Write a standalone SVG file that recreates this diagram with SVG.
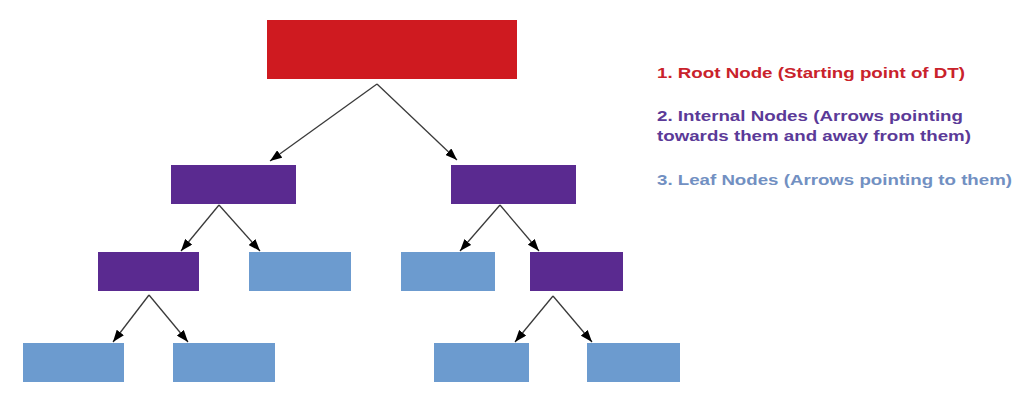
<svg xmlns="http://www.w3.org/2000/svg" width="1035" height="415" viewBox="0 0 1035 415">
<style>
.root{fill:#cf1a20}
.internal{fill:#5a2a90}
.leaf{fill:#6c9bcf}
.conn{stroke:#3a3a3a;stroke-width:1.3;fill:none;marker-end:url(#arr)}
.lg{font-family:"Liberation Sans",Arial,sans-serif;font-weight:bold;font-size:15px}
</style>
<defs>
<marker id="arr" markerUnits="userSpaceOnUse" markerWidth="12" markerHeight="9" refX="12" refY="4.5" orient="auto">
<path d="M0,0 L12,4.5 L0,9 z" fill="#000"/>
</marker>
</defs>
<rect width="1035" height="415" fill="#fff"/>
<g id="connectors">
<line class="conn" x1="377" y1="84" x2="270" y2="161"/>
<line class="conn" x1="377" y1="84" x2="457" y2="160"/>
<line class="conn" x1="219" y1="205" x2="181" y2="251"/>
<line class="conn" x1="219" y1="205" x2="260" y2="251"/>
<line class="conn" x1="500" y1="205" x2="460" y2="251"/>
<line class="conn" x1="500" y1="205" x2="539" y2="251"/>
<line class="conn" x1="149" y1="295" x2="113" y2="342"/>
<line class="conn" x1="149" y1="295" x2="188" y2="342"/>
<line class="conn" x1="553" y1="296" x2="515" y2="342"/>
<line class="conn" x1="553" y1="296" x2="592" y2="342"/>
</g>
<g id="root"><rect class="root" x="267" y="20" width="250" height="59"/></g>
<g id="int1"><rect class="internal" x="171" y="165" width="125" height="39"/></g>
<g id="int2"><rect class="internal" x="451" y="165" width="125" height="39"/></g>
<g id="int3"><rect class="internal" x="98" y="252" width="101" height="39"/></g>
<g id="leaf1"><rect class="leaf" x="249" y="252" width="102" height="39"/></g>
<g id="leaf2"><rect class="leaf" x="401" y="252" width="94" height="39"/></g>
<g id="int4"><rect class="internal" x="530" y="252" width="93" height="39"/></g>
<g id="leaf3"><rect class="leaf" x="23" y="343" width="101" height="39"/></g>
<g id="leaf4"><rect class="leaf" x="173" y="343" width="102" height="39"/></g>
<g id="leaf5"><rect class="leaf" x="434" y="343" width="95" height="39"/></g>
<g id="leaf6"><rect class="leaf" x="587" y="343" width="93" height="39"/></g>
<g id="legend">
<text class="lg" x="657" y="78" fill="#c9222b" textLength="308" lengthAdjust="spacingAndGlyphs">1. Root Node (Starting point of DT)</text>
<text class="lg" x="657" y="121" fill="#5b3a98" textLength="306" lengthAdjust="spacingAndGlyphs">2. Internal Nodes (Arrows pointing</text>
<text class="lg" x="657" y="141" fill="#5b3a98" textLength="314" lengthAdjust="spacingAndGlyphs">towards them and away from them)</text>
<text class="lg" x="657" y="184.5" fill="#7290c2" textLength="355" lengthAdjust="spacingAndGlyphs">3. Leaf Nodes (Arrows pointing to them)</text>
</g>
</svg>
